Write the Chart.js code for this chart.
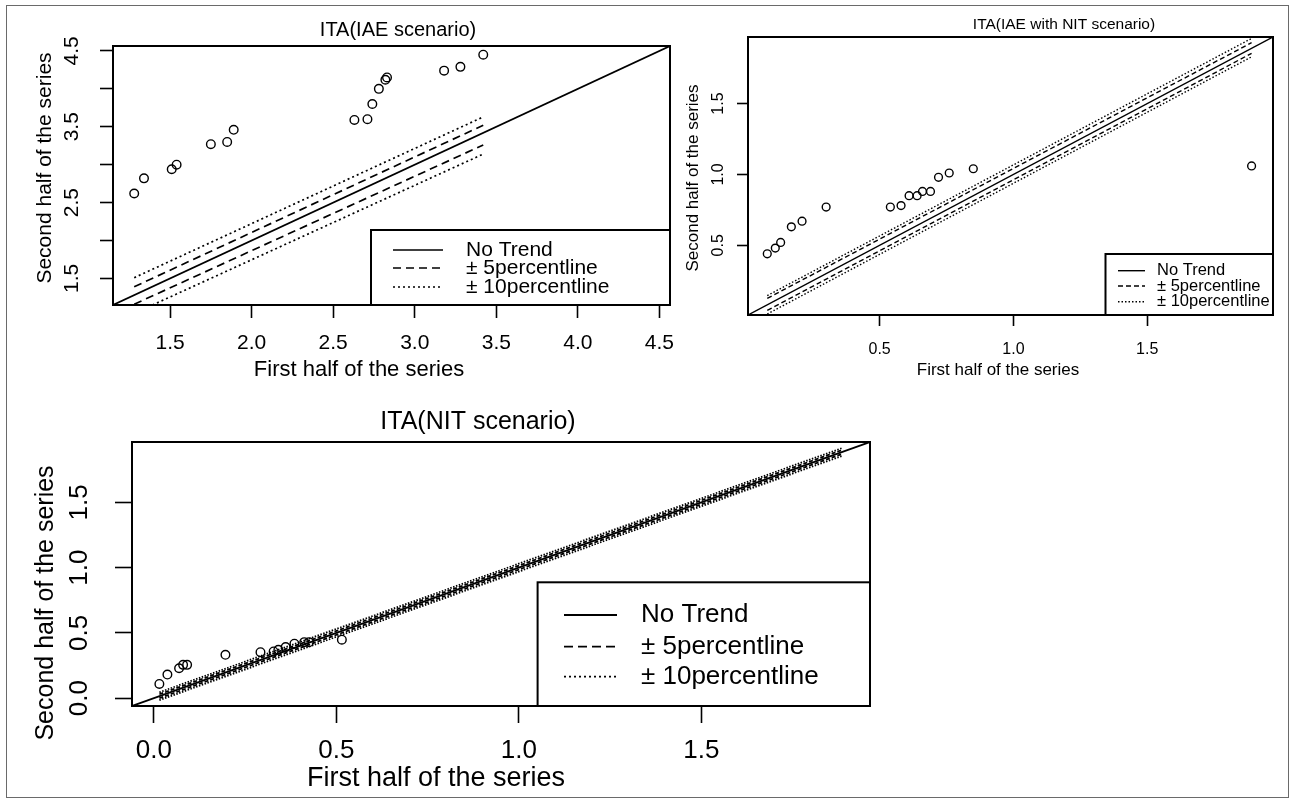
<!DOCTYPE html>
<html>
<head>
<meta charset="utf-8">
<title>ITA plots</title>
<script src="https://cdn.jsdelivr.net/npm/chart.js@4.4.1/dist/chart.umd.min.js"></script>
<style>
  body { margin: 0; background: #fff; }
  #wrap { position: relative; width: 1295px; height: 803px; }
  #frame { position: absolute; left: 6px; top: 5px; width: 1283px; height: 793px;
           border: 1px solid #6a6a6a; box-sizing: border-box; }
  canvas { position: absolute; left: 0; top: 0; }
</style>
</head>
<body>
<div id="wrap">
  <div id="frame"></div>
  <canvas id="iae" width="1295" height="803"></canvas>
  <canvas id="iaeNit" width="1295" height="803"></canvas>
  <canvas id="nit" width="1295" height="803"></canvas>
</div>
<script>
'use strict';

// IAE scenario: sorted first half vs sorted second half
var iaeFirst  = [1.28, 1.34, 1.51, 1.54, 1.75, 1.85, 1.89, 2.63, 2.71, 2.74, 2.78, 2.82, 2.83, 3.18, 3.28, 3.42];
var iaeSecond = [2.62, 2.82, 2.94, 3.00, 3.27, 3.30, 3.46, 3.59, 3.60, 3.80, 4.00, 4.12, 4.15, 4.24, 4.29, 4.45];
var iaeLimits = [1.15, 4.565];
var iaeBandX  = [1.28, 3.42];
var iaeUp10   = [1.51, 3.63];
var iaeUp5    = [1.39, 3.52];
var iaeLo5    = [1.16, 3.26];
var iaeLo10   = [1.04, 3.14];
var iaeTicks  = [1.5, 2.0, 2.5, 3.0, 3.5, 4.0, 4.5];
var iaeYLabels = [1.5, 2.5, 3.5, 4.5];

// IAE with NIT scenario
var iaeNitFirst  = [0.08, 0.11, 0.13, 0.17, 0.21, 0.30, 0.54, 0.58, 0.61, 0.64, 0.66, 0.69, 0.72, 0.76, 0.85, 1.89];
var iaeNitSecond = [0.44, 0.48, 0.52, 0.63, 0.67, 0.77, 0.77, 0.78, 0.85, 0.85, 0.88, 0.88, 0.98, 1.01, 1.04, 1.06];
var iaeNitLimits = [0.008, 1.97];
var iaeNitBandX  = [0.08, 1.89];
var iaeNitUp10   = [0.145, 1.96];
var iaeNitUp5    = [0.125, 1.93];
var iaeNitLo5    = [0.04, 1.855];
var iaeNitLo10   = [0.015, 1.83];
var iaeNitTicks  = [0.5, 1.0, 1.5];

// NIT scenario
var nitFirst  = [0.015, 0.037, 0.069, 0.080, 0.091, 0.196, 0.292, 0.328, 0.341, 0.361, 0.385, 0.412, 0.425, 0.515];
var nitSecond = [0.109, 0.181, 0.229, 0.255, 0.255, 0.332, 0.352, 0.358, 0.371, 0.391, 0.417, 0.429, 0.429, 0.448];
var nitLimits = [-0.06, 1.962];
var nitBandX  = [0.015, 1.885];
var nitUp10   = [0.045, 1.915];
var nitUp5    = [0.03, 1.90];
var nitLo5    = [0.0, 1.87];
var nitLo10   = [-0.015, 1.855];
var nitTicks  = [0.0, 0.5, 1.0, 1.5];

var legendLabels = ['No Trend', '\u00B1 5percentline', '\u00B1 10percentline'];
var FONT = '"Liberation Sans", Arial, sans-serif';

function pairs(xs, ys) {
    return xs.map(function (x, i) { return {x: x, y: ys[i]}; });
}

// box, titles, R-style tick labels and the legend
var rPlot = {
    id: 'rPlot',
    afterDraw: function (chart, args, o) {
        var ctx = chart.ctx, a = chart.chartArea;
        var sx = chart.scales.x, sy = chart.scales.y;
        ctx.save();
        ctx.strokeStyle = '#000';
        ctx.fillStyle = '#000';
        ctx.lineWidth = o.boxWidth;
        ctx.strokeRect(a.left, a.top, a.right - a.left, a.bottom - a.top);

        ctx.textAlign = 'center';
        ctx.textBaseline = 'middle';
        ctx.font = o.titleSize + 'px ' + FONT;
        ctx.fillText(o.title, o.titleAt[0], o.titleAt[1]);

        ctx.font = o.tickSize + 'px ' + FONT;
        o.xLabels.forEach(function (v) {
            ctx.fillText(v.toFixed(1), sx.getPixelForValue(v), o.xLabelY);
        });
        o.yLabels.forEach(function (v) {
            ctx.save();
            ctx.translate(o.yLabelX, sy.getPixelForValue(v));
            ctx.rotate(-Math.PI / 2);
            ctx.fillText(v.toFixed(1), 0, 0);
            ctx.restore();
        });

        ctx.font = o.xTitleSize + 'px ' + FONT;
        ctx.fillText('First half of the series', o.xTitleAt[0], o.xTitleAt[1]);
        ctx.save();
        ctx.translate(o.yTitleAt[0], o.yTitleAt[1]);
        ctx.rotate(-Math.PI / 2);
        ctx.font = o.yTitleSize + 'px ' + FONT;
        ctx.fillText('Second half of the series', 0, 0);
        ctx.restore();

        var L = o.legend, b = L.box;
        ctx.fillStyle = '#fff';
        ctx.fillRect(b[0], b[1], b[2] - b[0], b[3] - b[1]);
        ctx.lineWidth = o.boxWidth;
        ctx.strokeRect(b[0], b[1], b[2] - b[0], b[3] - b[1]);
        var dashes = [[], L.dash, L.dot];
        ctx.fillStyle = '#000';
        ctx.textAlign = 'left';
        ctx.font = L.size + 'px ' + FONT;
        legendLabels.forEach(function (txt, i) {
            ctx.setLineDash(dashes[i]);
            ctx.lineWidth = o.lineWidth;
            ctx.beginPath();
            ctx.moveTo(L.sample[0], L.rows[i]);
            ctx.lineTo(L.sample[1], L.rows[i]);
            ctx.stroke();
            ctx.setLineDash([]);
            ctx.fillText(txt, L.textX, L.rows[i]);
        });
        ctx.restore();
    }
};

function axis(limits, ticks, tickLength, isX) {
    return {
        type: 'linear',
        position: isX ? 'bottom' : 'left',
        min: limits[0],
        max: limits[1],
        bounds: 'data',
        ticks: {display: false},
        border: {display: false},
        grid: {drawOnChartArea: false, drawTicks: true, tickLength: tickLength, tickWidth: 1.6, tickColor: '#000'},
        afterBuildTicks: function (s) { s.ticks = ticks.map(function (v) { return {value: v}; }); },
        afterFit: function (s) { if (isX) { s.height = 0; } else { s.width = 0; } }
    };
}

function line(xs, ys, dash, w) {
    return {
        data: pairs(xs, ys),
        showLine: true,
        borderColor: '#000',
        borderWidth: w,
        borderDash: dash,
        pointRadius: 0,
        fill: false
    };
}

function makePanel(id, p) {
    var ctx = document.getElementById(id).getContext('2d');
    var bandDash = p.bandDash || p.legend.dash;
    var bandDot = p.bandDot || p.legend.dot;
    return new Chart(ctx, {
        type: 'scatter',
        data: {
            datasets: [
                {
                    data: pairs(p.first, p.second),
                    pointStyle: 'circle',
                    pointRadius: p.radius,
                    pointBorderWidth: 1.4,
                    borderColor: '#000',
                    backgroundColor: 'rgba(0,0,0,0)',
                    showLine: false
                },
                line(p.limits, p.limits, [], p.lineWidth),
                line(p.bandX, p.up5, bandDash, p.lineWidth),
                line(p.bandX, p.lo5, bandDash, p.lineWidth),
                line(p.bandX, p.up10, bandDot, p.lineWidth),
                line(p.bandX, p.lo10, bandDot, p.lineWidth)
            ]
        },
        options: {
            responsive: false,
            animation: false,
            layout: {padding: p.padding},
            scales: {
                x: axis(p.limits, p.xTicks, p.tickLength, true),
                y: axis(p.limits, p.yTicks, p.tickLength, false)
            },
            plugins: {
                legend: {display: false},
                tooltip: {enabled: false},
                rPlot: p
            }
        },
        plugins: [rPlot]
    });
}

makePanel('iae', {
    first: iaeFirst, second: iaeSecond, limits: iaeLimits,
    bandX: iaeBandX, up5: iaeUp5, lo5: iaeLo5, up10: iaeUp10, lo10: iaeLo10,
    xTicks: iaeTicks, yTicks: iaeTicks, xLabels: iaeTicks, yLabels: iaeYLabels,
    padding: {left: 113, top: 46, right: 625, bottom: 498},
    title: 'ITA(IAE scenario)', titleAt: [398, 30], titleSize: 20,
    tickSize: 21, xLabelY: 343, yLabelX: 72, tickLength: 13,
    xTitleAt: [359, 370], xTitleSize: 22,
    yTitleAt: [45, 168], yTitleSize: 21,
    radius: 4.3, lineWidth: 1.7, boxWidth: 2,
    legend: {box: [371, 230, 670, 305], rows: [250, 268, 287], sample: [393, 443],
             textX: 466, size: 21, dash: [8, 5], dot: [2, 3]}
});

makePanel('iaeNit', {
    first: iaeNitFirst, second: iaeNitSecond, limits: iaeNitLimits,
    bandX: iaeNitBandX, up5: iaeNitUp5, lo5: iaeNitLo5, up10: iaeNitUp10, lo10: iaeNitLo10,
    xTicks: iaeNitTicks, yTicks: iaeNitTicks, xLabels: iaeNitTicks, yLabels: iaeNitTicks,
    padding: {left: 748, top: 37, right: 22, bottom: 488},
    title: 'ITA(IAE with NIT scenario)', titleAt: [1064, 25], titleSize: 15.5,
    tickSize: 16, xLabelY: 350, yLabelX: 719, tickLength: 11,
    xTitleAt: [998, 370], xTitleSize: 17,
    yTitleAt: [693, 178], yTitleSize: 17,
    radius: 3.9, lineWidth: 1.4, boxWidth: 2,
    legend: {box: [1105.5, 254, 1273, 315], rows: [270.7, 286, 301.7], sample: [1118, 1145],
             textX: 1157, size: 16.5, dash: [5, 3], dot: [1.5, 2]}
});

makePanel('nit', {
    first: nitFirst, second: nitSecond, limits: nitLimits,
    bandX: nitBandX, up5: nitUp5, lo5: nitLo5, up10: nitUp10, lo10: nitLo10,
    xTicks: nitTicks, yTicks: nitTicks, xLabels: nitTicks, yLabels: nitTicks,
    padding: {left: 132, top: 442, right: 425, bottom: 97},
    title: 'ITA(NIT scenario)', titleAt: [478, 422], titleSize: 25,
    tickSize: 26, xLabelY: 751, yLabelX: 80, tickLength: 17,
    xTitleAt: [436, 779], xTitleSize: 27,
    yTitleAt: [46, 603], yTitleSize: 25,
    radius: 4.3, lineWidth: 1.8, boxWidth: 2,
    bandDash: [4, 2], bandDot: [1.5, 1.5],
    legend: {box: [537.6, 582.3, 870, 706], rows: [615, 646.7, 676.7], sample: [564, 617],
             textX: 641, size: 26, dash: [9, 5], dot: [2, 3]}
});
</script>
</body>
</html>
